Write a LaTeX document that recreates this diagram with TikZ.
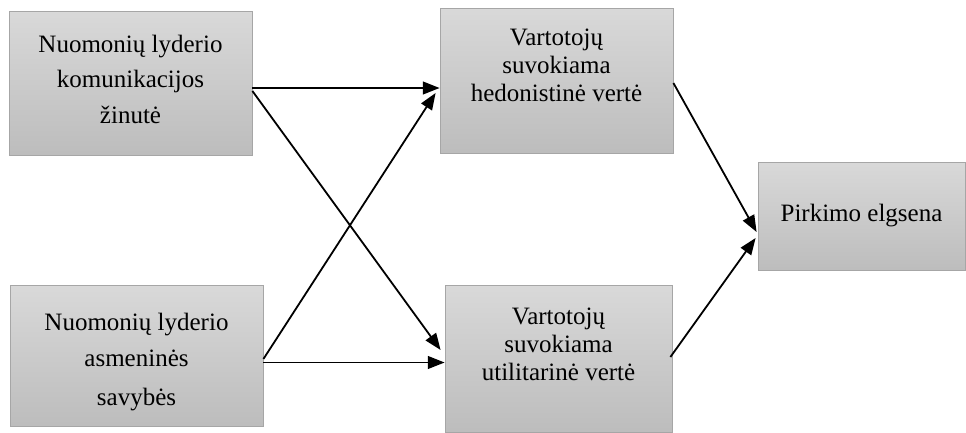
\documentclass[tikz,border=0pt]{standalone}
\usepackage{fontspec}
\setmainfont{Liberation Serif}
\usepackage{tikz}
\usetikzlibrary{positioning, arrows.meta, calc}

\begin{document}
\begin{tikzpicture}[x=0.75pt, y=-0.75pt,
  font=\fontsize{18.75}{21}\selectfont, >={Triangle[length=12.5pt, width=9.5pt]},
  box/.style={draw=gray!70, line width=0.6pt, top color=gray!30, bottom color=gray!52, align=center, inner sep=2pt},
  wide/.style={font=\fontsize{18.75}{26.5}\selectfont},
  link/.style={->, line width=1.35pt}]
\useasboundingbox (0,0) rectangle (966,432);
\node[box, wide, minimum width=182.25pt, minimum height=108pt, text depth=6pt] (msg) at (130.5,83) {Nuomonių lyderio\\komunikacijos\\žinutė};
\node[box, wide, minimum width=189.75pt, minimum height=105.75pt, text height=79pt] (traits) at (136.5,355.5) {Nuomonių lyderio\\asmeninės\\[3pt]savybės};
\node[box, minimum width=174.75pt, minimum height=108.75pt, text depth=23.5pt] (hedon) at (556.5,80.5) {Vartotojų\\suvokiama\\hedonistinė vertė};
\node[box, minimum width=170.25pt, minimum height=110.25pt, text depth=22pt] (util) at (558.5,358.5) {Vartotojų\\suvokiama\\utilitarinė vertė};
\node[box, minimum width=155.25pt, minimum height=81pt] (buy) at (861.5,216) {Pirkimo elgsena};
\draw[link] ($(msg.east)+(0,5)$) -- ($(hedon.west)+(0,7.5)$);
\draw[link] ($(msg.east)+(0,8)$) -- ($(util.west)+(-4,-8.5)$);
\draw[link] ($(traits.east)+(0,3.5)$) -- ($(hedon.west)+(-4,12.5)$);
\draw[link] ($(traits.east)+(0,7)$) -- ($(util.west)+(0,4)$);
\draw[link] ($(hedon.east)+(0,2.5)$) -- ($(buy.west)+(-1,16)$);
\draw[link] ($(util.east)+(-2,-1.5)$) -- ($(buy.west)+(-2,22)$);
\end{tikzpicture}
\end{document}
